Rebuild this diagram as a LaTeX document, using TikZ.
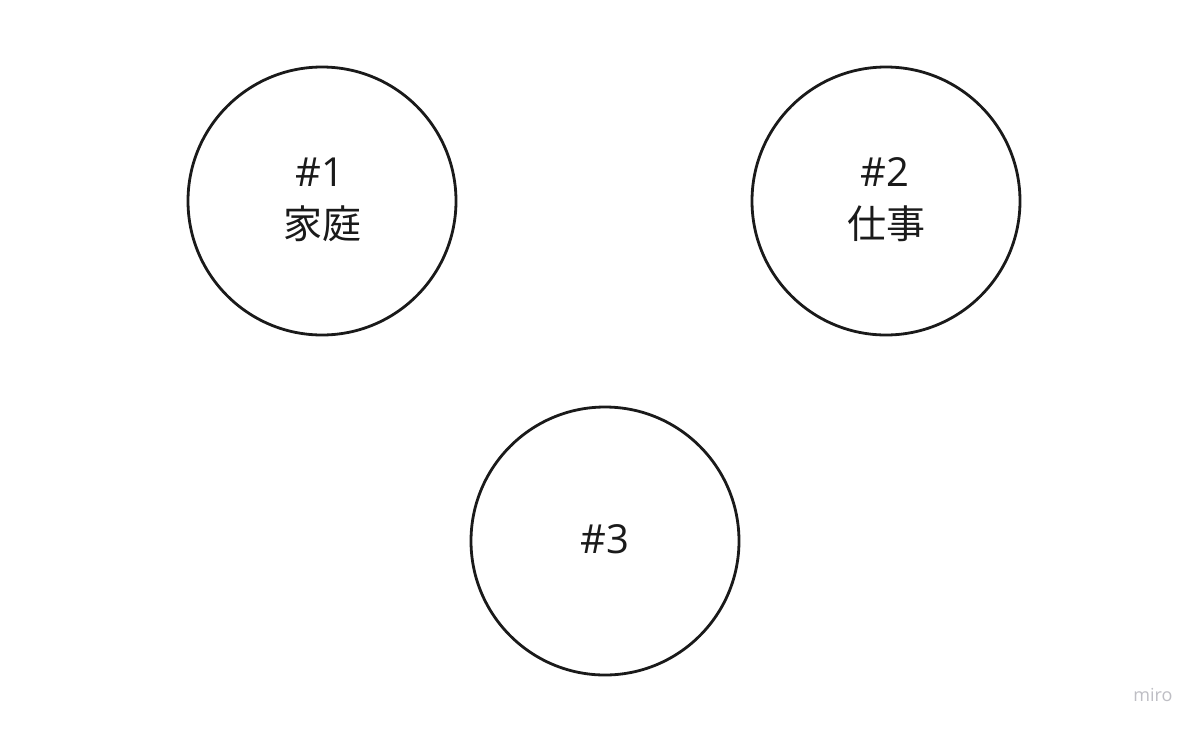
\documentclass[tikz,border=0pt]{standalone}
\usepackage{fontspec}
\setmainfont{Open Sans}
\newfontfamily\cjk{Noto Sans CJK JP}
\definecolor{ink}{HTML}{1A1A1A}
\definecolor{wm}{HTML}{BEBEC4}
\begin{document}
\begin{tikzpicture}[x=1pt,y=-1pt,
  ring/.style={circle,draw=ink,line width=2.8pt,minimum size=268pt,inner sep=0pt},
  lbl/.style={font=\fontsize{40}{48}\selectfont,text=ink,inner sep=0pt},
  cjklbl/.style={font=\cjk\fontsize{39}{46}\selectfont,text=ink,inner sep=0pt}]
\useasboundingbox (0,0) rectangle (1200,729);
\fill[white] (0,0) rectangle (1200,729);
\node[ring] (c1) at (322,201) {};
\node[ring] (c2) at (886,201) {};
\node[ring] (c3) at (605,541) {};
\node[lbl,anchor=base] (t1a) at (320,186) {\#1};
\node[cjklbl,anchor=base] (t1b) at (322,238) {家庭};
\node[lbl,anchor=base] (t2a) at (885,186) {\#2};
\node[cjklbl,anchor=base] (t2b) at (886,238) {仕事};
\node[lbl,anchor=base] (t3) at (605,553) {\#3};
\node[font=\fontsize{18}{22}\selectfont,text=wm,anchor=base] (wmk) at (1153,701) {miro};
\end{tikzpicture}
\end{document}
